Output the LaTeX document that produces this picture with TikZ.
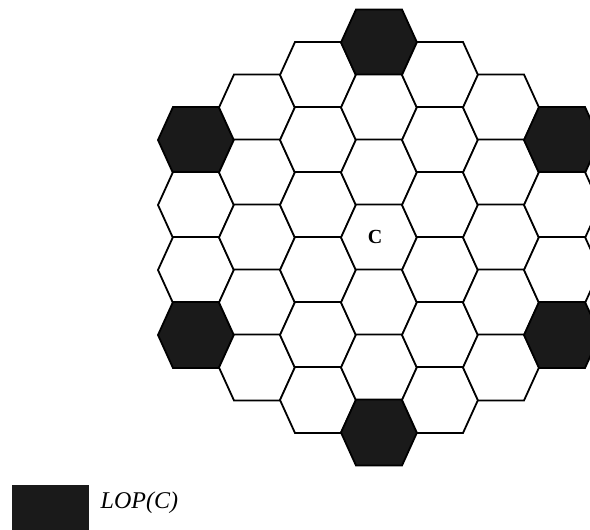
\documentclass[tikz,border=0pt]{standalone}
\usepackage{fontspec}
\setmainfont{Liberation Serif}
\usetikzlibrary{positioning}
\definecolor{Ink}{RGB}{0,0,0}
\definecolor{Shade}{RGB}{26,26,26}
\tikzset{
  cell/.style={draw=Ink,line width=1.8pt,line join=miter,fill=white},
  lopcell/.style={cell,fill=Shade},
  cname/.style={font=\bfseries\fontsize{20}{20}\selectfont,text=Ink,inner sep=0pt},
  keybox/.style={fill=Shade,minimum width=77pt,minimum height=50pt,inner sep=0pt},
  keylabel/.style={font=\itshape\fontsize{24}{24}\selectfont,text=Ink}
}
\begin{document}
\begin{tikzpicture}[x=1pt,y=-1pt]
  \useasboundingbox (0,0) rectangle (590,530);
  % hexagonal neighbourhood, seven columns round C
  \foreach \q in {-3,...,3}{
    \pgfmathtruncatemacro{\n}{7-abs(\q)}
    \foreach \r in {1,...,\n}{
      \pgfmathsetmacro{\cx}{379+61*\q}
      \pgfmathsetmacro{\cy}{237.5+65*(\r-(\n+1)/2)}
      \pgfmathtruncatemacro{\dark}{((\r==1)||(\r==\n))&&((abs(\q)==0)||(abs(\q)==3))}
      \ifnum\dark=1 \def\sty{lopcell}\else\def\sty{cell}\fi
      \draw[\sty] (\cx-38,\cy) -- (\cx-23,\cy-33) -- (\cx+23,\cy-33)
        -- (\cx+38,\cy) -- (\cx+23,\cy+33) -- (\cx-23,\cy+33) -- cycle;
    }
  }
  \node[cname] (c) at (375,237) {C};
  % legend
  \node[keybox] (key) at (50.5,510) {};
  \node[keylabel,right=8pt of key,yshift=7pt] (keytext) {LOP(C)};
\end{tikzpicture}
\end{document}
